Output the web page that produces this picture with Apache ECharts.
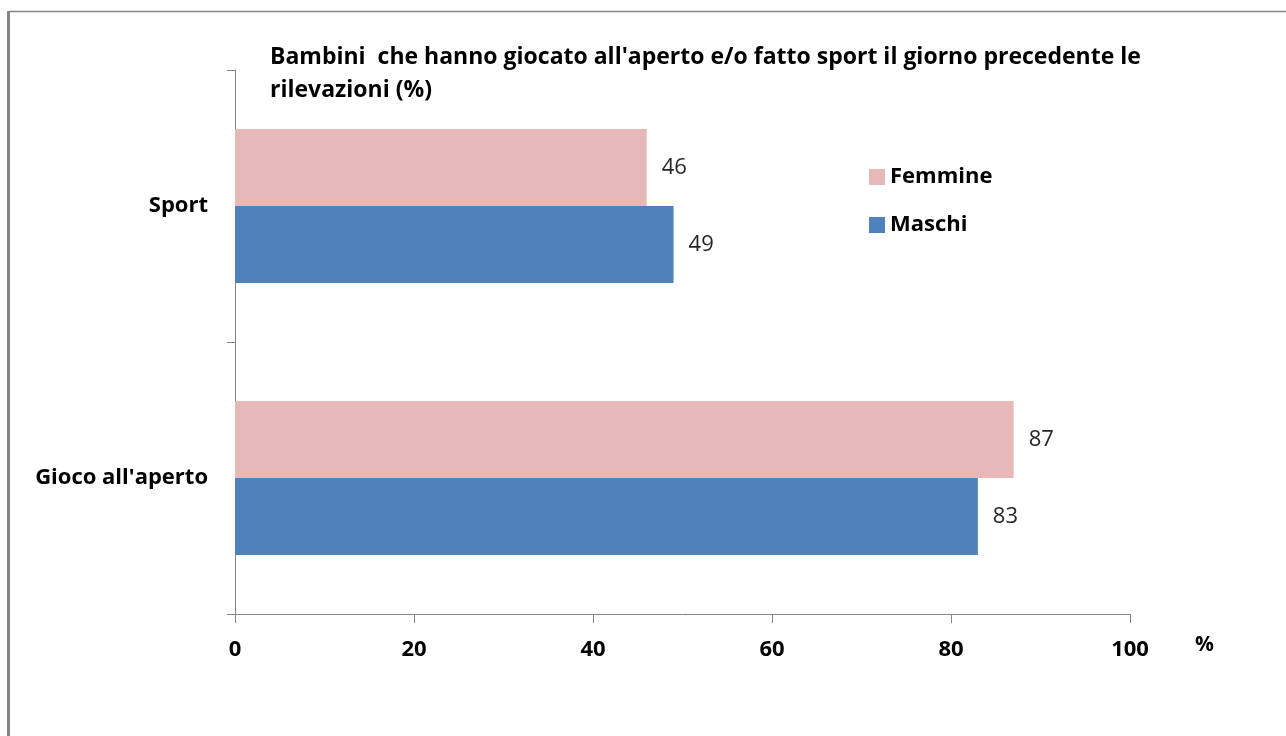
<!DOCTYPE html>
<html>
<head>
<meta charset="utf-8">
<script src="https://cdn.jsdelivr.net/npm/echarts@6/dist/echarts.min.js"></script>
<style>
  html, body { margin: 0; padding: 0; background: #fff; }
  #chart { width: 1286px; height: 736px; }
</style>
</head>
<body>
<div id="chart"></div>
<script>
var categories = ["Gioco all'aperto", 'Sport'];
var femmine = [87, 46];
var maschi = [83, 49];
var xTicks = [0, 20, 40, 60, 80, 100];

var font = '"Open Sans", sans-serif';

function madeChart() {
    var myChart = echarts.init(document.getElementById('chart'));

    var option = {
        animation: false,
        backgroundColor: '#fff',
        title: {
            text: "Bambini  che hanno giocato all'aperto e/o fatto sport il giorno precedente le\nrilevazioni (%)",
            left: 265,
            top: 36,
            textStyle: {
                fontFamily: font,
                fontSize: 23,
                fontWeight: 'bold',
                color: '#000',
                lineHeight: 33
            }
        },
        legend: {
            data: ['Femmine', 'Maschi'],
            orient: 'vertical',
            left: 864,
            top: 161,
            itemWidth: 16,
            itemHeight: 16,
            itemGap: 26,
            icon: 'rect',
            textStyle: { fontFamily: font, fontSize: 22, fontWeight: 'bold', color: '#000', lineHeight: 22 }
        },
        grid: { left: 235, right: 156, top: 70, bottom: 122 },
        xAxis: {
            type: 'value',
            min: xTicks[0],
            max: xTicks[xTicks.length - 1],
            interval: 20,
            splitLine: { show: false },
            axisLine: { show: true, lineStyle: { color: '#868686', width: 1 } },
            axisTick: { show: true, length: 9, lineStyle: { color: '#868686' } },
            axisLabel: { margin: 25, fontFamily: font, fontSize: 22, fontWeight: 'bold', color: '#000' }
        },
        yAxis: {
            type: 'category',
            data: categories,
            axisLine: { lineStyle: { color: '#868686', width: 1 } },
            axisTick: { show: true, length: 8, inside: false, lineStyle: { color: '#868686' } },
            axisLabel: { margin: 27, fontFamily: font, fontSize: 22, fontWeight: 'bold', color: '#000' }
        },
        series: [
            {
                name: 'Femmine',
                type: 'bar',
                data: femmine,
                barWidth: 77,
                barGap: '0%',
                itemStyle: { color: '#E6B9B8' },
                label: { show: true, position: 'right', distance: 15, fontFamily: font, fontSize: 22, color: '#262626' }
            },
            {
                name: 'Maschi',
                type: 'bar',
                data: maschi,
                barWidth: 77,
                barGap: '0%',
                itemStyle: { color: '#4F81BD' },
                label: { show: true, position: 'right', distance: 15, fontFamily: font, fontSize: 22, color: '#262626' }
            }
        ],
        graphic: [
            { type: 'line', shape: { x1: 8.5, y1: 11.5, x2: 1286, y2: 11.5 }, style: { stroke: '#868686', lineWidth: 1.5 } },
            { type: 'line', shape: { x1: 8.5, y1: 11, x2: 8.5, y2: 736 }, style: { stroke: '#868686', lineWidth: 3 } },
            { type: 'text', left: 1195, top: 635, style: { text: '%', fontFamily: font, fontSize: 21, fontWeight: 'bold', fill: '#000' } }
        ]
    };

    myChart.setOption(option);
}

madeChart();
</script>
</body>
</html>
